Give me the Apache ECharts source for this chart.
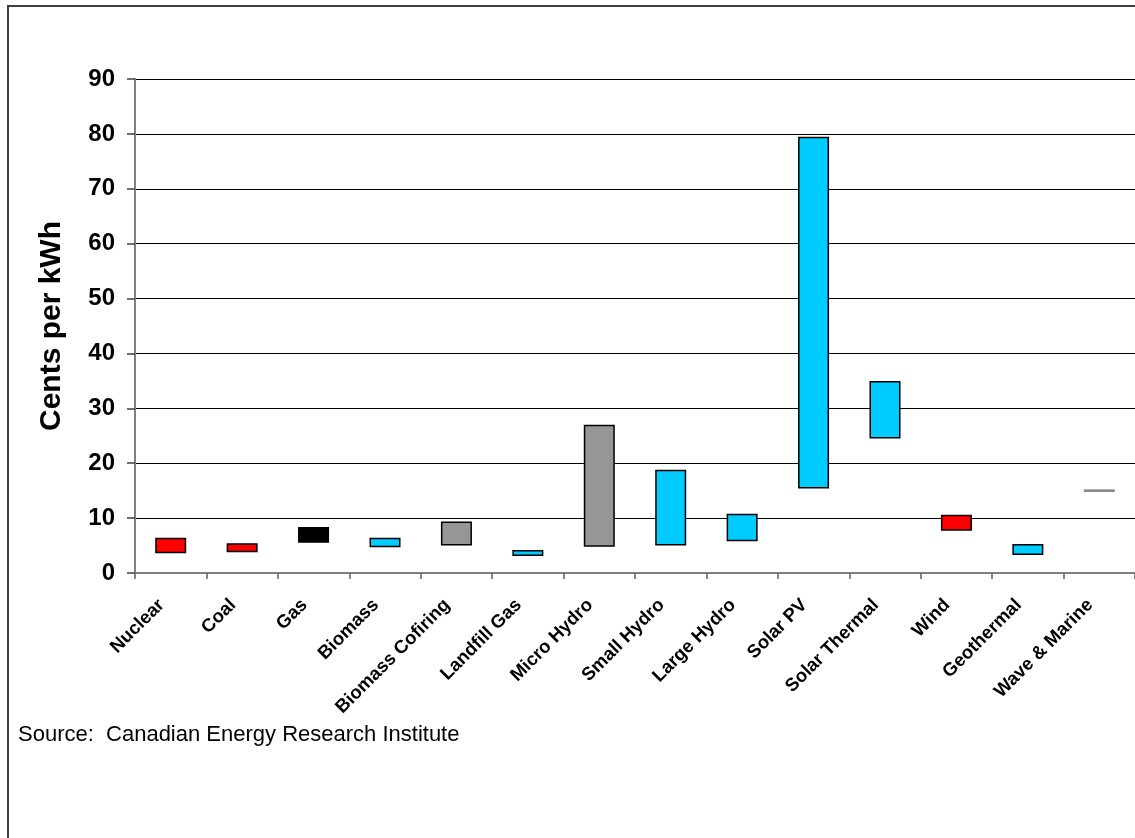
<!DOCTYPE html>
<html>
<head>
<meta charset="utf-8">
<script src="https://cdn.jsdelivr.net/npm/echarts@6/dist/echarts.min.js"></script>
<style>
html,body{margin:0;padding:0;background:#fff;}
#chart{width:1135px;height:838px;}
</style>
</head>
<body>
<div id="chart"></div>
<script>
const categories = ['Nuclear','Coal','Gas','Biomass','Biomass Cofiring','Landfill Gas','Micro Hydro','Small Hydro','Large Hydro','Solar PV','Solar Thermal','Wind','Geothermal','Wave & Marine'];
const lowValues  = [3.6, 3.8, 5.5, 4.7, 5.0, 3.1, 4.8, 5.0, 5.8, 15.4, 24.5, 7.7, 3.3, 14.75];
const highValues = [6.4, 5.4, 8.4, 6.4, 9.4, 4.2, 27.0, 18.8, 10.8, 79.5, 35.0, 10.6, 5.3, 15.25];
const barColors  = ['#FF0000','#FF0000','#000000','#00CCFF','#969696','#00CCFF','#969696','#00CCFF','#00CCFF','#00CCFF','#00CCFF','#FF0000','#00CCFF','#8C8C8C'];
const hasBorder  = [true,true,true,true,true,true,true,true,true,true,true,true,true,false];
const yTicks = [0,10,20,30,40,50,60,70,80,90];

const chart = echarts.init(document.getElementById('chart'), null, {renderer:'canvas'});
const rangeData = categories.map((c,i)=>({
  value: +(highValues[i]-lowValues[i]).toFixed(3),
  itemStyle: {
    color: barColors[i],
    borderColor: hasBorder[i] ? '#000' : barColors[i],
    borderWidth: hasBorder[i] ? 1.5 : 0
  }
}));
const FONT = 'Liberation Sans, Arial, sans-serif';
chart.setOption({
  animation:false,
  backgroundColor:'#fff',
  grid:{left:135, top:79, width:1010, bottom:265, containLabel:false},
  graphic:[
    {type:'rect', shape:{x:8,y:6,width:1300,height:1000}, style:{fill:'none', stroke:'#404040', lineWidth:2}, silent:true, z:-1},
    {type:'text', left:18, top:724, style:{text:'Source:  Canadian Energy Research Institute', font:'22px '+FONT, fill:'#000'}}
  ],
  xAxis:{
    type:'category', data:categories, boundaryGap:true,
    axisLine:{lineStyle:{color:'#808080', width:2}},
    axisTick:{show:true, alignWithLabel:false, length:6, lineStyle:{color:'#606060', width:1.5}},
    axisLabel:{rotate:45, interval:0, margin:20, padding:[0,13,0,0], fontFamily:FONT, fontWeight:'bold', fontSize:18.5, color:'#000'},
    splitLine:{show:false}
  },
  yAxis:{
    type:'value', min:yTicks[0], max:yTicks[yTicks.length-1], interval:10,
    name:'Cents per kWh', nameLocation:'middle', nameGap:68,
    nameTextStyle:{fontFamily:FONT, fontWeight:'bold', fontSize:30, color:'#000'},
    axisLine:{show:true, lineStyle:{color:'#808080', width:2}},
    axisTick:{show:true, length:8, lineStyle:{color:'#404040', width:1.5}},
    axisLabel:{margin:20, fontFamily:FONT, fontWeight:'bold', fontSize:24, color:'#000'},
    splitLine:{show:true, lineStyle:{color:'#000', width:1}}
  },
  series:[
    {type:'bar', stack:'r', data:lowValues, barWidth:31, itemStyle:{color:'transparent'}, silent:true},
    {type:'bar', stack:'r', data:rangeData, barWidth:31}
  ]
});
</script>
</body>
</html>
